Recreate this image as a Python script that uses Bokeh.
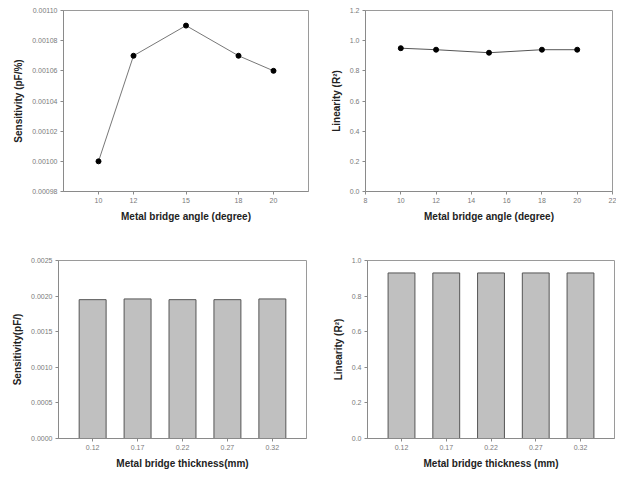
from bokeh.plotting import figure
from bokeh.layouts import column, row
from bokeh.models import FixedTicker, NumeralTickFormatter, FactorRange, Range1d
from bokeh.embed import file_html
from bokeh.resources import INLINE

# ---- data ----
angles = [10, 12, 15, 18, 20]
angle_sensitivity = [0.00100, 0.00107, 0.00109, 0.00107, 0.00106]
angle_linearity = [0.95, 0.94, 0.92, 0.94, 0.94]

thickness_labels = ["0.12", "0.17", "0.22", "0.27", "0.32"]
thickness_sensitivity = [0.00195, 0.00196, 0.00195, 0.00195, 0.00196]
thickness_linearity = [0.93, 0.93, 0.93, 0.93, 0.93]

sens_ticks = [0.00098, 0.00100, 0.00102, 0.00104, 0.00106, 0.00108, 0.00110]
lin_ticks_top = [0.0, 0.2, 0.4, 0.6, 0.8, 1.0, 1.2]
angle_ticks_right = [8, 10, 12, 14, 16, 18, 20, 22]
sens_bar_ticks = [0.0, 0.0005, 0.0010, 0.0015, 0.0020, 0.0025]
lin_ticks_bottom = [0.0, 0.2, 0.4, 0.6, 0.8, 1.0]

FONT = "Liberation Sans"


def style(p):
    p.outline_line_color = "#9a9a9a"
    p.outline_line_width = 1
    p.xgrid.visible = False
    p.ygrid.visible = False
    p.background_fill_color = "white"
    p.border_fill_color = "white"
    for ax in p.axis:
        ax.axis_line_color = "#8a8a8a"
        ax.major_tick_line_color = "#8a8a8a"
        ax.major_tick_out = 3
        ax.major_tick_in = 0
        ax.minor_tick_out = 0
        ax.minor_tick_in = 0
        ax.major_label_text_font = FONT
        ax.major_label_text_font_size = "7px"
        ax.major_label_text_color = "#7a7a7a"
        ax.axis_label_text_font = FONT
        ax.axis_label_text_font_style = "bold"
        ax.axis_label_text_font_size = "10px"
        ax.axis_label_text_color = "#222222"
        ax.major_label_standoff = 3
        ax.axis_label_standoff = 5


# ---- top-left: sensitivity vs angle ----
p1 = figure(width=310, height=226, output_backend="svg", toolbar_location=None,
            x_range=Range1d(8, 22), y_range=Range1d(0.00098, 0.00110),
            min_border_left=63, min_border_right=2, min_border_top=10, min_border_bottom=35)
p1.line(angles, angle_sensitivity, line_color="#777777", line_width=1)
p1.scatter(angles, angle_sensitivity, size=5, fill_color="black", line_color="black")
p1.xaxis.ticker = FixedTicker(ticks=angles)
p1.yaxis.ticker = FixedTicker(ticks=sens_ticks)
p1.yaxis.formatter = NumeralTickFormatter(format="0.00000")
p1.xaxis.axis_label = "Metal bridge angle (degree)"
p1.yaxis.axis_label = "Sensitivity (pF/%)"
style(p1)

# ---- top-right: linearity vs angle ----
p2 = figure(width=306, height=226, output_backend="svg", toolbar_location=None,
            x_range=Range1d(8, 22), y_range=Range1d(0, 1.2),
            min_border_left=55, min_border_right=4, min_border_top=10, min_border_bottom=35)
p2.line(angles, angle_linearity, line_color="#555555", line_width=1)
p2.scatter(angles, angle_linearity, size=5, fill_color="black", line_color="black")
p2.xaxis.ticker = FixedTicker(ticks=angle_ticks_right)
p2.yaxis.ticker = FixedTicker(ticks=lin_ticks_top)
p2.yaxis.formatter = NumeralTickFormatter(format="0.0")
p2.xaxis.formatter = NumeralTickFormatter(format="0")
p2.xaxis.axis_label = "Metal bridge angle (degree)"
p2.yaxis.axis_label = "Linearity (R²)"
style(p2)

# ---- bottom-left: sensitivity vs thickness ----
p3 = figure(width=310, height=245, output_backend="svg", toolbar_location=None,
            x_range=FactorRange(factors=thickness_labels, range_padding=0.26,
                                range_padding_units="absolute"),
            y_range=Range1d(0, 0.0025),
            min_border_left=58, min_border_right=4, min_border_top=34, min_border_bottom=31)
p3.vbar(x=thickness_labels, top=thickness_sensitivity, width=0.6,
        fill_color="#c0c0c0", line_color="#555555", line_width=1)
p3.yaxis.ticker = FixedTicker(ticks=sens_bar_ticks)
p3.yaxis.formatter = NumeralTickFormatter(format="0.0000")
p3.xaxis.axis_label = "Metal bridge thickness(mm)"
p3.yaxis.axis_label = "Sensitivity(pF/)"
style(p3)

# ---- bottom-right: linearity vs thickness ----
p4 = figure(width=306, height=245, output_backend="svg", toolbar_location=None,
            x_range=FactorRange(factors=thickness_labels, range_padding=0.26,
                                range_padding_units="absolute"),
            y_range=Range1d(0, 1.0),
            min_border_left=57, min_border_right=2, min_border_top=34, min_border_bottom=31)
p4.vbar(x=thickness_labels, top=thickness_linearity, width=0.6,
        fill_color="#c0c0c0", line_color="#555555", line_width=1)
p4.yaxis.ticker = FixedTicker(ticks=lin_ticks_bottom)
p4.yaxis.formatter = NumeralTickFormatter(format="0.0")
p4.xaxis.axis_label = "Metal bridge thickness (mm)"
p4.yaxis.axis_label = "Linearity (R²)"
style(p4)

layout = column(row(p1, p2), row(p3, p4))

open("out.html", "w").write(file_html(layout, INLINE))
